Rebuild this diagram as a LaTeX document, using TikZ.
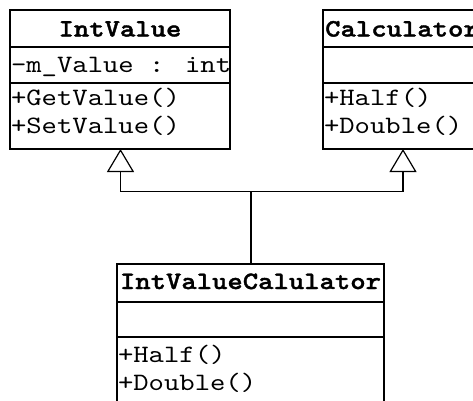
\documentclass[tikz,border=0pt]{standalone}
\usepackage{fontspec}
\newfontfamily\umlfont{lmmono10-regular}[Extension=.otf,BoldFont=lmmonolt10-bold,BoldFeatures={FakeBold=1.5},FakeStretch=1.17]
\usetikzlibrary{arrows.meta}
\begin{document}
\begin{tikzpicture}[x=1pt,y=-1pt,line width=1.2pt,
  classbox/.style={draw,rectangle,inner sep=0pt,outer sep=0pt,anchor=north west},
  umltext/.style={inner sep=0pt,outer sep=0pt,font=\fontsize{25}{28}\selectfont\umlfont},
  classname/.style={umltext,font=\fontsize{25}{28}\selectfont\umlfont\bfseries,anchor=base},
  member/.style={umltext,anchor=base west},
  inherit/.style={-{Triangle[open,length=23pt,width=27pt,line width=1.2pt]}}]
\useasboundingbox (0,0) rectangle (473,400);
\fill[white] (0,0) rectangle (473,400);
\clip (0,0) rectangle (473,400);

% class IntValue
\node[classbox,minimum width=220pt,minimum height=139pt] (iv) at (10,10) {};
\draw ([yshift=-37pt]iv.north west) -- ([yshift=-37pt]iv.north east);
\draw ([yshift=-73pt]iv.north west) -- ([yshift=-73pt]iv.north east);
\node[classname] (ivname) at (120,36.5) {IntValue};
\node[member] (ivattr) at (11,72) {-m\_Value : int};
\node[member] (ivget) at (11,105) {+GetValue()};
\node[member] (ivset) at (11,133.5) {+SetValue()};

% class Calculator
\node[classbox,minimum width=158pt,minimum height=139pt] (calc) at (323,10) {};
\draw ([yshift=-37pt]calc.north west) -- ([yshift=-37pt]calc.north east);
\draw ([yshift=-73pt]calc.north west) -- ([yshift=-73pt]calc.north east);
\node[classname] (calcname) at (402,36.5) {Calculator};
\node[member] (calchalf) at (324,105) {+Half()};
\node[member] (calcdouble) at (324,133.5) {+Double()};

% class IntValueCalulator
\node[classbox,minimum width=267pt,minimum height=170pt] (ivc) at (117,264) {};
\draw ([yshift=-38pt]ivc.north west) -- ([yshift=-38pt]ivc.north east);
\draw ([yshift=-73pt]ivc.north west) -- ([yshift=-73pt]ivc.north east);
\node[classname] (ivcname) at (250.5,289) {IntValueCalulator};
\node[member] (ivchalf) at (118,362) {+Half()};
\node[member] (ivcdouble) at (118,390) {+Double()};

% generalisation
\coordinate (join) at (251,191.7);
\coordinate (ivtip) at (120.5,149);
\coordinate (calctip) at (403,149);
\draw (ivc.north -| join) -- (join);
\draw[inherit] (join) -| (ivtip);
\draw[inherit] (join) -| (calctip);
\end{tikzpicture}
\end{document}
